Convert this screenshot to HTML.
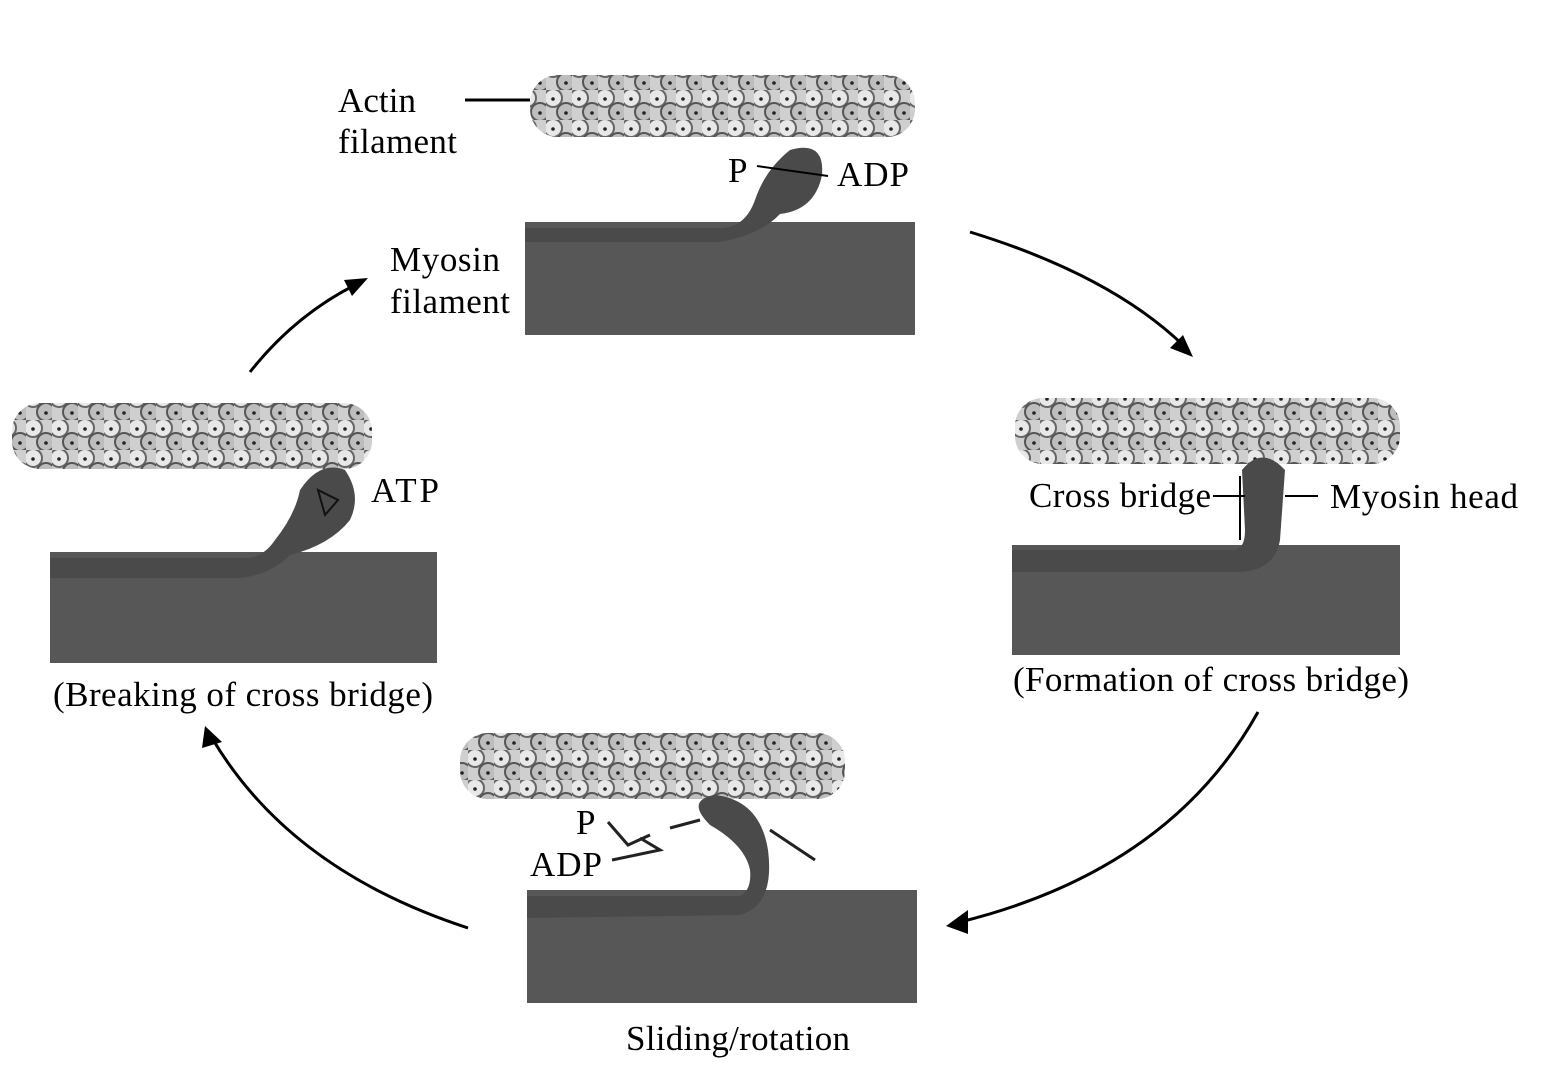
<!DOCTYPE html>
<html><head><meta charset="utf-8"><style>
html,body{margin:0;padding:0;background:#fff}
svg{display:block}
text{font-family:"Liberation Serif",serif;font-size:35px;fill:#000}
</style></head><body>
<svg width="1542" height="1082" viewBox="0 0 1542 1082" xmlns="http://www.w3.org/2000/svg">
<defs>
<pattern id="act" x="0" y="0" width="26" height="30" patternUnits="userSpaceOnUse">
<rect width="26" height="30" fill="#cfcfcf"/>
<circle cx="7" cy="8" r="9" fill="#e8e8e8" stroke="#666" stroke-width="2"/>
<circle cx="20" cy="22" r="9" fill="#bdbdbd" stroke="#555" stroke-width="2"/>
<circle cx="7" cy="9" r="1.8" fill="#222"/>
<circle cx="20" cy="23" r="1.8" fill="#222"/>
</pattern>
</defs>

<!-- Panel top -->
<rect x="530" y="75" width="385" height="62" rx="28" fill="url(#act)"/>
<rect x="525" y="222" width="390" height="113" fill="#575757"/>
<path d="M525 228 L720 228 Q745 228 755 200 Q765 170 790 150 Q825 140 822 175 Q815 210 780 214 Q760 235 720 242 L525 242Z" fill="#4a4a4a"/>
<line x1="465" y1="100" x2="530" y2="100" stroke="#000" stroke-width="3"/>
<line x1="757" y1="166" x2="828" y2="176" stroke="#000" stroke-width="2"/>
<text x="338" y="112" textLength="78">Actin</text>
<text x="338" y="153" textLength="119">filament</text>
<text x="390" y="271" textLength="110">Myosin</text>
<text x="390" y="313" textLength="120">filament</text>
<text x="728" y="182">P</text>
<text x="837" y="186" textLength="72">ADP</text>

<!-- Panel right -->
<rect x="1015" y="398" width="385" height="66" rx="28" fill="url(#act)"/>
<rect x="1012" y="545" width="388" height="110" fill="#575757"/>
<path d="M1012 550 L1235 550 Q1245 548 1245 530 L1242 470 Q1262 445 1285 470 L1280 540 Q1275 570 1240 572 L1012 572Z" fill="#4a4a4a"/>
<line x1="1213" y1="496" x2="1245" y2="496" stroke="#000" stroke-width="2"/>
<line x1="1240" y1="476" x2="1240" y2="540" stroke="#000" stroke-width="2"/>
<line x1="1285" y1="496" x2="1318" y2="496" stroke="#000" stroke-width="2"/>
<text x="1029" y="507" textLength="182">Cross bridge</text>
<text x="1330" y="508" textLength="188">Myosin head</text>
<text x="1013" y="691" textLength="396">(Formation of cross bridge)</text>

<!-- Panel bottom -->
<rect x="460" y="733" width="385" height="66" rx="28" fill="url(#act)"/>
<rect x="527" y="890" width="390" height="113" fill="#575757"/>
<path d="M527 896 L740 896 Q752 890 750 870 Q745 845 710 825 Q685 800 715 795 Q760 800 768 850 Q775 905 740 915 L527 918Z" fill="#4a4a4a"/>
<path d="M608 822 L628 845 L650 835 M612 860 L660 850 L640 838 M670 828 L700 820 M770 830 L815 860" stroke="#222" stroke-width="3" fill="none"/>
<text x="576" y="834">P</text>
<text x="530" y="876" textLength="72">ADP</text>
<text x="626" y="1050" textLength="224">Sliding/rotation</text>

<!-- Panel left -->
<rect x="12" y="403" width="360" height="66" rx="28" fill="url(#act)"/>
<rect x="50" y="552" width="387" height="111" fill="#575757"/>
<path d="M50 558 L250 558 Q265 555 275 540 Q295 515 300 490 Q320 460 345 470 Q362 495 350 520 Q330 545 290 555 Q270 575 240 578 L50 578Z" fill="#4a4a4a"/>
<path d="M318 490 L338 500 L325 515Z" fill="none" stroke="#111" stroke-width="2"/>
<text x="371" y="502" textLength="68">ATP</text>
<text x="53" y="706" textLength="380">(Breaking of cross bridge)</text>

<!-- Arrows -->
<g stroke="#000" stroke-width="3" fill="none">
<path d="M970 232 Q1110 275 1183 345"/>
<path d="M1258 712 Q1170 870 960 922"/>
<path d="M468 928 Q290 870 212 738"/>
<path d="M250 372 Q295 315 357 284"/>
</g>
<g fill="#000">
<polygon points="1193,357 1170,348 1183,335"/>
<polygon points="946,926 968,910 968,934"/>
<polygon points="205,726 222,742 202,748"/>
<polygon points="368,278 352,296 344,280"/>
</g>
</svg>
</body></html>
